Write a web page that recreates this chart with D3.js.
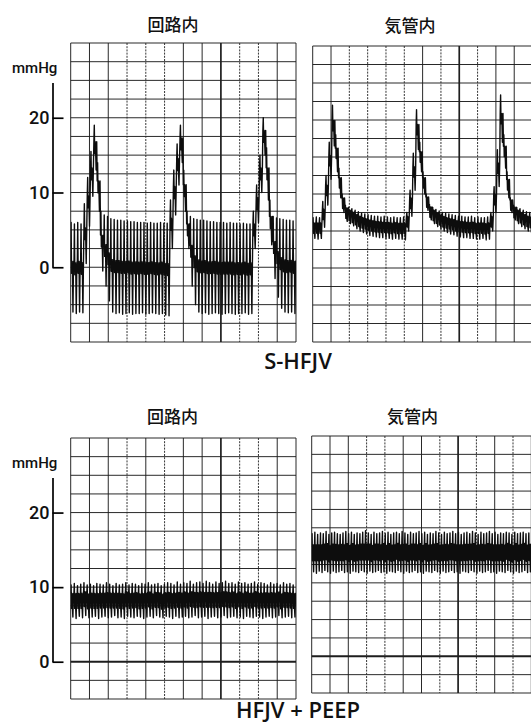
<!DOCTYPE html>
<html><head><meta charset="utf-8">
<script src="https://cdn.jsdelivr.net/npm/d3@7"></script>
<style>html,body{margin:0;padding:0;background:#fff;}svg{display:block;}</style>
</head><body><svg id="chart" width="531" height="725"></svg>
<script>
// ---------- data (mmHg), one value per jet cycle ----------
const tickValues = [0, 10, 20];
const unitLabel = "mmHg";
const siteTitles = ["回路内", "気管内"];
const modeLabels = ["S-HFJV", "HFJV + PEEP"];

const sHfjvCircuitHigh = [
  6.0, 5.8, 6.0, 5.8,
  8.5, 12, 15.5, 19, 14, 7.5,
  7.0, 6.8, 6.5,
  6.4, 6.3, 6.3, 6.2, 6.2, 6.1, 6.1, 6.0, 6.0, 6.0, 5.9, 6.0, 5.9, 5.9, 6.0, 5.9, 5.9,
  9, 13, 16.5, 19, 13, 7.5,
  6.8, 6.5,
  6.4, 6.3, 6.3, 6.2, 6.1, 6.1, 6.0, 6.0, 6.0, 5.9, 6.0, 5.9, 5.9, 5.8, 5.9, 5.8, 5.8,
  7.5, 11, 15, 20, 16, 9,
  6.8, 6.6, 6.5, 6.4, 6.3, 6.3, 6.2
];
const sHfjvCircuitLow = [
  -6.0, -6.2, -6.0, -6.1,
  0.5, 5.5, 9.5, 13, 7.5, -0.5,
  -2.5, -4.5, -6.0,
  -6.2, -6.1, -6.3, -6.2, -6.1, -6.3, -6.2, -6.2, -6.1, -6.3, -6.2, -6.1, -6.2, -6.3, -6.2, -6.4, -6.5,
  2.5, 7, 11, 14, 7.5, 2.5,
  -2.5, -5.0,
  -6.0, -6.2, -6.1, -6.3, -6.2, -6.1, -6.2, -6.3, -6.2, -6.1, -6.2, -6.3, -6.2, -6.2, -6.1, -6.3, -6.2,
  2.5, 6, 10, 15, 9, 3,
  -1.5, -4.0, -5.5, -6.0, -6.1, -6.0, -6.2
];
const sHfjvTracheaHigh = [
  6.8, 6.9, 6.8,
  9, 12.5, 17, 22, 18, 13.5, 10, 8.5,
  8.2, 8.0, 7.8, 7.6, 7.4, 7.3, 7.2, 7.1, 7.0, 7.0, 6.9, 7.0, 6.9, 6.8, 6.9, 6.8, 6.8, 6.9,
  7.5, 10.5, 15.5, 21.4, 17, 13, 10, 8.6,
  8.2, 7.9, 7.7, 7.5, 7.4, 7.3, 7.2, 7.1, 7.0, 7.0, 6.9, 6.9, 7.0, 6.8, 6.9, 6.8, 6.8, 6.9,
  7.5, 11, 16, 23.4, 18, 13, 9.5, 8.5,
  8.2, 8.0, 7.8, 7.6, 7.5
];
const sHfjvTracheaLow = [
  4.0, 3.9, 4.0,
  5.5, 8.5, 12, 16.5, 13, 9.5, 7.5, 6.3,
  6.0, 5.7, 5.3, 5.0, 4.8, 4.6, 4.4, 4.3, 4.2, 4.1, 4.1, 4.0, 4.0, 3.9, 4.0, 3.9, 3.9, 3.8,
  5, 7, 10.5, 16, 13, 10, 7.8, 6.5,
  6.0, 5.6, 5.3, 5.0, 4.8, 4.6, 4.5, 4.3, 4.2, 4.1, 4.1, 4.0, 4.0, 3.9, 3.9, 4.0, 3.8, 3.9,
  5, 7.5, 11, 17, 13.5, 9.5, 7.5, 6.5,
  6.0, 5.6, 5.3, 5.0, 4.8
];
const peepCircuitHigh = [
  10.3, 10.5, 10.2, 10.4, 10.6, 10.3, 10.4, 10.2, 10.5, 10.4,
  10.3, 10.6, 10.4, 10.2, 10.5, 10.3, 10.4, 10.6, 10.3, 10.5,
  10.4, 10.2, 10.5, 10.4, 10.6, 10.3, 10.4, 10.5, 10.2, 10.4,
  10.6, 10.5, 10.3, 10.7, 10.4, 10.6, 10.5, 10.8, 10.4, 10.6,
  10.7, 10.5, 10.8, 10.6, 10.4, 10.7, 10.5, 10.6, 10.8, 10.5,
  10.6, 10.4, 10.7, 10.5, 10.6, 10.4, 10.5, 10.7, 10.4, 10.6,
  10.5, 10.3, 10.6, 10.4, 10.5, 10.3, 10.6, 10.4, 10.5, 10.3
];
const peepCircuitLow = [
  6.0, 5.8, 6.1, 5.9, 6.2, 5.9, 6.0, 6.1, 5.8, 6.0,
  6.1, 5.9, 6.0, 6.2, 5.9, 6.0, 5.8, 6.1, 6.0, 5.9,
  6.1, 6.0, 5.8, 6.0, 6.1, 5.9, 6.2, 6.0, 5.9, 6.1,
  6.0, 5.8, 6.1, 5.9, 6.0, 6.1, 5.9, 6.0, 6.2, 5.9,
  6.0, 6.1, 5.8, 6.0, 6.1, 5.9, 6.0, 6.2, 5.9, 6.0,
  6.1, 5.9, 6.0, 5.8, 6.1, 6.0, 5.9, 6.1, 6.0, 5.8,
  6.0, 6.1, 5.9, 6.0, 6.2, 5.9, 6.0, 6.1, 5.9, 6.0
];
const peepTracheaHigh = [
  16.7, 16.9, 16.6, 16.8, 16.7, 17.0, 16.6, 16.8, 16.9, 16.7,
  16.6, 16.8, 17.0, 16.7, 16.9, 16.6, 16.8, 16.7, 16.9, 17.1,
  16.8, 16.6, 16.9, 16.7, 16.8, 17.0, 16.7, 16.9, 16.6, 16.8,
  16.9, 16.7, 17.0, 16.8, 16.6, 16.9, 16.7, 16.8, 17.0, 16.7,
  16.9, 16.6, 16.8, 16.7, 17.0, 16.8, 16.6, 16.9, 16.7, 16.8,
  17.0, 16.7, 16.9, 16.6, 16.8, 16.9, 16.7, 17.0, 16.8, 16.6,
  16.9, 16.7, 16.8, 17.0, 16.7, 16.9, 16.6, 16.8, 16.7, 16.9,
  16.8, 16.6, 16.9, 16.7, 16.8, 16.9, 16.7, 16.8
];
const peepTracheaLow = [
  11.5, 11.3, 11.6, 11.4, 11.7, 11.5, 11.3, 11.6, 11.4, 11.5,
  11.7, 11.4, 11.5, 11.3, 11.6, 11.5, 11.4, 11.7, 11.5, 11.3,
  11.6, 11.4, 11.5, 11.7, 11.4, 11.5, 11.3, 11.6, 11.5, 11.4,
  11.7, 11.5, 11.3, 11.6, 11.4, 11.5, 11.7, 11.4, 11.5, 11.3,
  11.6, 11.5, 11.4, 11.7, 11.5, 11.3, 11.6, 11.4, 11.5, 11.7,
  11.4, 11.5, 11.3, 11.6, 11.5, 11.4, 11.7, 11.5, 11.3, 11.6,
  11.4, 11.5, 11.7, 11.4, 11.5, 11.3, 11.6, 11.5, 11.4, 11.7,
  11.5, 11.3, 11.6, 11.4, 11.5, 11.7, 11.4, 11.5
];

// ---------- layout ----------
const COLS = 12;
const panels = [
  {hi: sHfjvCircuitHigh, lo: sHfjvCircuitLow, x0: 70.7, colW: 18.775, yTop: 43, yBot: 342, vMin: -10, vMax: 30,
   band: 0.8, axis: true, title: siteTitles[0], tx: 173, ty: 23, dotted: [3, 4, 5, 9, 10], boldZero: false},
  {hi: sHfjvTracheaHigh, lo: sHfjvTracheaLow, x0: 312.7, colW: 18.32, yTop: 46, yBot: 342, vMin: -10, vMax: 30,
   band: 0.7, axis: false, title: siteTitles[1], tx: 410, ty: 24.5, dotted: [2, 3, 4, 5, 7, 9], boldZero: false},
  {hi: peepCircuitHigh, lo: peepCircuitLow, x0: 70.7, colW: 18.775, yTop: 438, yBot: 699, vMin: -5, vMax: 30,
   band: 1.0, axis: true, title: siteTitles[0], tx: 172.5, ty: 415, dotted: [3, 5, 9, 10], boldZero: true},
  {hi: peepTracheaHigh, lo: peepTracheaLow, x0: 311.7, colW: 18.3, yTop: 436, yBot: 693, vMin: -5, vMax: 30,
   band: 1.1, axis: false, title: siteTitles[1], tx: 412.5, ty: 415, dotted: [3, 4, 7, 9, 11], boldZero: true}
];

const svg = d3.select("#chart");
const CJK = "'Noto Sans CJK JP', 'Noto Sans', sans-serif";
const LAT = "Roboto, 'Liberation Sans', sans-serif";

const frac = [0, 0.12, 0.25, 0.4, 0.55, 0.68, 0.85];

panels.forEach((p, pi) => {
  const x = d3.scaleLinear().domain([0, COLS]).range([p.x0, p.x0 + COLS * p.colW]);
  const y = d3.scaleLinear().domain([p.vMin, p.vMax]).range([p.yBot, p.yTop]);
  const g = svg.append("g");

  // grid
  const rows = d3.range(p.vMin, p.vMax + 0.001, 2.5);
  g.selectAll("line.h").data(rows).join("line")
    .attr("x1", x(0)).attr("x2", x(COLS))
    .attr("y1", d => y(d)).attr("y2", d => y(d))
    .attr("stroke", "#1e1e1e")
    .attr("stroke-width", d => (p.boldZero && d === 0) ? 2 : 0.95);
  g.selectAll("line.v").data(d3.range(0, COLS + 1)).join("line")
    .attr("x1", d => x(d)).attr("x2", d => x(d))
    .attr("y1", y(p.vMax)).attr("y2", y(p.vMin))
    .attr("stroke", d => p.dotted.includes(d) ? "#2a2a2a" : "#1e1e1e")
    .attr("stroke-dasharray", d => p.dotted.includes(d) ? "2,1.2" : null)
    .attr("stroke-width", d => d === 8 ? 1.7 : 0.95);

  // trace
  const clipId = "clip" + pi;
  svg.append("clipPath").attr("id", clipId).append("rect")
    .attr("x", x(0)).attr("y", y(p.vMax)).attr("width", x(COLS) - x(0)).attr("height", y(p.vMin) - y(p.vMax));
  const n = p.hi.length, dt = COLS / n;
  const pts = [];
  p.hi.forEach((h, i) => {
    const l = p.lo[i], m = (h + l) / 2, w = p.band;
    const vals = [m + w, h, m - w, m + w, m - w, l, m + w];
    frac.forEach((f, k) => pts.push([(i + f) * dt, vals[k]]));
  });
  const last = (p.hi[n - 1] + p.lo[n - 1]) / 2 + p.band;
  pts.push([COLS, last]);
  const line = d3.line().x(d => x(d[0])).y(d => y(d[1]));
  g.append("path").attr("d", line(pts)).attr("clip-path", `url(#${clipId})`)
    .attr("fill", "none").attr("stroke", "#0d0d0d").attr("stroke-width", 1.4)
    .attr("stroke-linejoin", "round");

  // title
  svg.append("text").attr("x", p.tx).attr("y", p.ty).attr("text-anchor", "middle")
    .attr("dominant-baseline", "central")
    .style("font-family", CJK).style("font-size", "17px").style("font-weight", 500).attr("fill", "#111")
    .text(p.title);

  // axis
  if (p.axis) {
    const top = 24.7;
    const aScale = d3.scaleLinear().domain([0, top]).range([y(0), y(top)]);
    const ax = svg.append("g").attr("transform", "translate(52.5,0)")
      .call(d3.axisLeft(aScale).tickValues(tickValues).tickSizeInner(-11).tickSizeOuter(0).tickPadding(3).tickFormat(d3.format("d")));
    ax.select(".domain").attr("stroke", "#000").attr("stroke-width", 1.7);
    ax.selectAll(".tick line").attr("stroke", "#000").attr("stroke-width", 1.7);
    ax.selectAll(".tick text").style("font-family", LAT).style("font-size", "18px").style("font-weight", 500).attr("fill", "#111");
    svg.append("text").attr("x", 12).attr("y", y(top) - 10)
      .style("font-family", LAT).style("font-size", "15px").style("font-weight", 500).attr("fill", "#111")
      .text(unitLabel);
  }
});

// mode labels
const modeY = [369, 718];
modeLabels.forEach((t, i) => {
  svg.append("text").attr("x", 298).attr("y", modeY[i]).attr("text-anchor", "middle")
    .style("font-family", "'Open Sans', 'Noto Sans', sans-serif").style("font-size", "22px").style("font-weight", 600)
    .attr("fill", "#111").text(t);
});
</script>
</body></html>
